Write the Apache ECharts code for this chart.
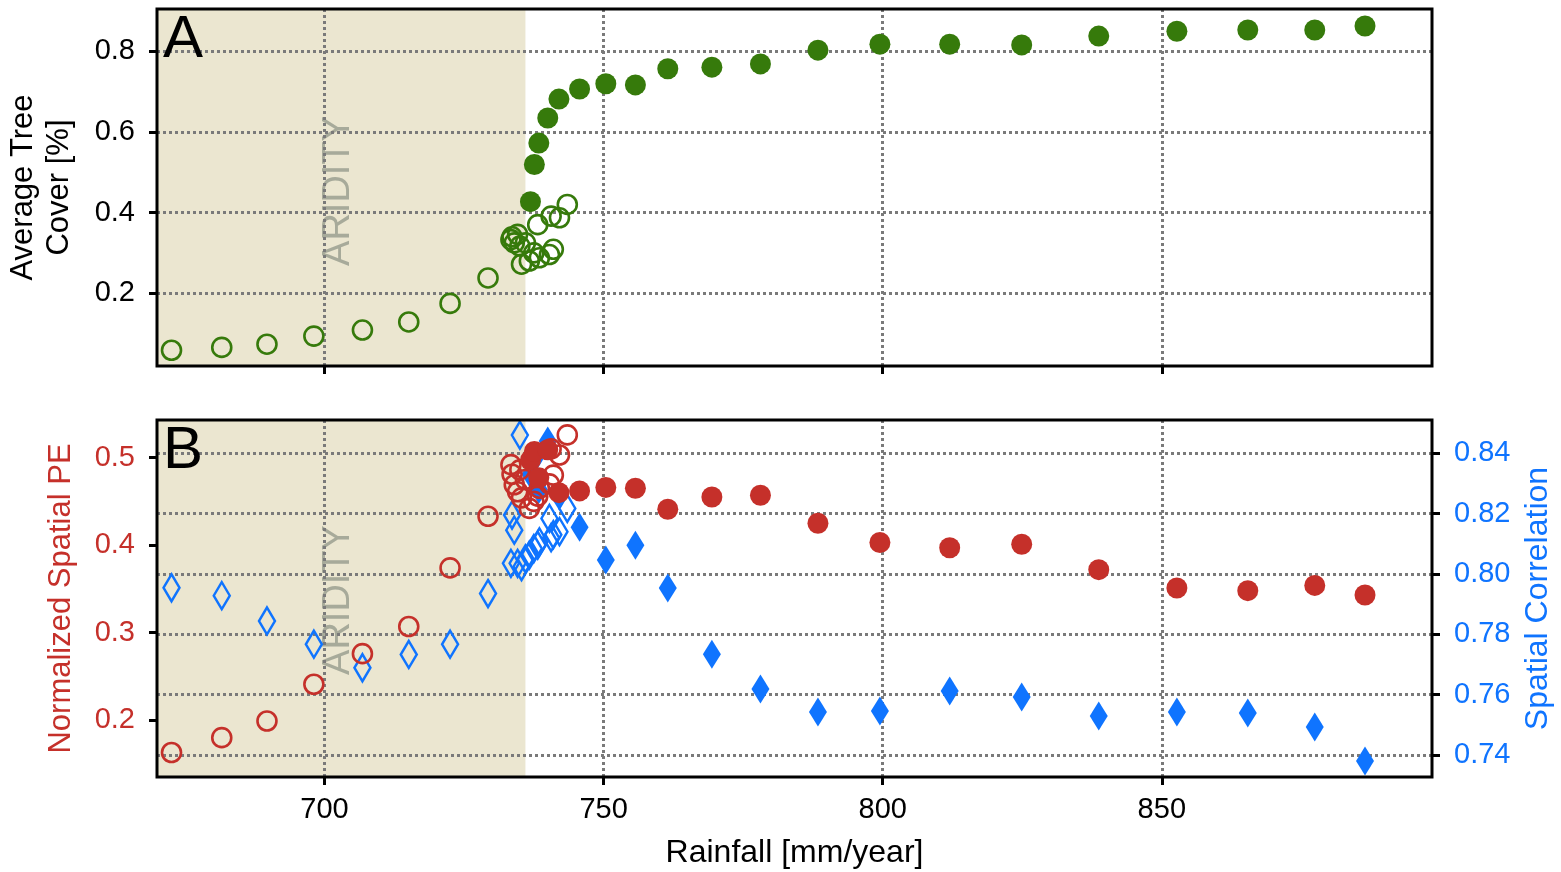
<!DOCTYPE html>
<html>
<head>
<meta charset="utf-8">
<script src="https://cdn.jsdelivr.net/npm/echarts@6/dist/echarts.min.js"></script>
<style>html,body{margin:0;padding:0;background:#fff}#c{width:1561px;height:872px}</style>
</head>
<body>
<div id="c"></div>
<script>
// ---- data ----
const xTicks = [700, 750, 800, 850];
const treeTicks = [0.2, 0.4, 0.6, 0.8];
const peTicks = [0.2, 0.3, 0.4, 0.5];
const corrTicks = [0.74, 0.76, 0.78, 0.80, 0.82, 0.84];
const aridityEnd = 736;

// open markers (arid side / low-rain branch)
const rainOpen = [672.6, 681.6, 689.7, 698.1, 706.8, 715.1, 722.5, 729.3, 733.4, 733.6, 734.0, 734.6, 735.0, 735.3, 736.0, 736.7, 737.5, 738.2, 738.5, 740.3, 741.0, 742.1, 740.6, 743.5];
const treeOpen = [0.059, 0.066, 0.074, 0.094, 0.109, 0.129, 0.175, 0.238, 0.333, 0.340, 0.325, 0.346, 0.317, 0.272, 0.325, 0.280, 0.300, 0.370, 0.288, 0.296, 0.309, 0.387, 0.391, 0.420];
const peOpen = [0.163, 0.180, 0.199, 0.241, 0.276, 0.307, 0.374, 0.433, 0.492, 0.481, 0.469, 0.461, 0.486, 0.454, 0.475, 0.442, 0.450, 0.456, 0.465, 0.470, 0.480, 0.503, 0.510, 0.526];
const corrOpen = [0.7954, 0.7928, 0.7844, 0.7767, 0.7689, 0.7733, 0.7767, 0.7935, 0.8035, 0.8195, 0.8145, 0.8035, 0.846, 0.8024, 0.8050, 0.8062, 0.8084, 0.8095, 0.8106, 0.8184, 0.8130, 0.8140, 0.8120, 0.8217];

// filled markers (forest branch)
const rainFill = [736.9, 737.6, 738.4, 740.0, 742.0, 745.7, 750.4, 755.7, 761.5, 769.4, 778.1, 788.4, 799.5, 812.0, 824.9, 838.7, 852.7, 865.4, 877.4, 886.4];
const treeFill = [0.427, 0.519, 0.572, 0.634, 0.681, 0.706, 0.719, 0.716, 0.756, 0.760, 0.768, 0.802, 0.817, 0.817, 0.815, 0.837, 0.849, 0.852, 0.852, 0.862];
const peFill = [0.497, 0.507, 0.477, 0.509, 0.460, 0.462, 0.466, 0.465, 0.441, 0.455, 0.457, 0.425, 0.403, 0.397, 0.401, 0.372, 0.351, 0.348, 0.354, 0.343];
const corrFill = [0.833, 0.838, 0.828, 0.844, 0.826, 0.8155, 0.8046, 0.8095, 0.7953, 0.7734, 0.7619, 0.7542, 0.7546, 0.7612, 0.7592, 0.7529, 0.7542, 0.7539, 0.7493, 0.738];

// ---- styling ----
const GREEN = '#367a0b', RED = '#c5302a', BLUE = '#0f74ff', SHADE = '#ebe6d0', GRID = '#7a7a7a';
const FONT = 'Liberation Sans, Arial, Helvetica, sans-serif';
const pairs = (xs, ys) => xs.map((x, i) => [x, ys[i]]);

const tickStyle = {show: true, inside: false, length: 8, lineStyle: {color: '#000', width: 3}};
const splitStyle = {show: true, lineStyle: {color: GRID, width: 3, type: [3, 3]}};
const labelBase = {fontFamily: FONT, fontSize: 29, color: '#000'};

function xAxisFor(gi, showLabels) {
  return {
    type: 'value', gridIndex: gi, min: 670, max: 898.4, z: 3,
    axisLine: {show: false},
    axisTick: Object.assign({customValues: xTicks}, tickStyle),
    axisLabel: Object.assign({show: showLabels, customValues: xTicks, margin: 18}, labelBase),
    splitLine: splitStyle,
    name: showLabels ? 'Rainfall [mm/year]' : '',
    nameLocation: 'middle', nameGap: 60,
    nameTextStyle: {fontFamily: FONT, fontSize: 32, color: '#000'}
  };
}

const gridBase = {left: 157, right: 129, height: 357, show: true, borderColor: '#000', borderWidth: 3,
  backgroundColor: 'transparent', z: 6, containLabel: false, outerBoundsMode: 'none'};

const option = {
  animation: false,
  backgroundColor: '#fff',
  grid: [
    Object.assign({top: 9}, gridBase),
    Object.assign({top: 420}, gridBase)
  ],
  xAxis: [xAxisFor(0, false), xAxisFor(1, true)],
  yAxis: [
    {
      type: 'value', gridIndex: 0, min: 0.02, max: 0.904, z: 3,
      axisLine: {show: false},
      axisTick: Object.assign({customValues: treeTicks}, tickStyle),
      axisLabel: Object.assign({customValues: treeTicks, margin: 22, formatter: v => v.toFixed(1)}, labelBase),
      splitLine: splitStyle,
      name: 'Average Tree\nCover [%]', nameLocation: 'middle', nameRotate: 90, nameGap: 80,
      nameTextStyle: {fontFamily: FONT, fontSize: 31, color: '#000', lineHeight: 36}
    },
    {
      type: 'value', gridIndex: 1, min: 0.135, max: 0.543, position: 'left', z: 3,
      axisLine: {show: false},
      axisTick: Object.assign({customValues: peTicks}, tickStyle),
      axisLabel: Object.assign({customValues: peTicks, margin: 22, formatter: v => v.toFixed(1)}, labelBase, {color: RED}),
      splitLine: {show: false},
      name: 'Normalized Spatial PE', nameLocation: 'middle', nameRotate: 90, nameGap: 80,
      nameTextStyle: {fontFamily: FONT, fontSize: 31, color: RED}
    },
    {
      type: 'value', gridIndex: 1, min: 0.7327, max: 0.851, position: 'right', z: 3,
      axisLine: {show: false},
      axisTick: Object.assign({customValues: corrTicks}, tickStyle),
      axisLabel: Object.assign({customValues: corrTicks, margin: 22, formatter: v => v.toFixed(2)}, labelBase, {color: BLUE}),
      splitLine: splitStyle,
      name: 'Spatial Correlation', nameLocation: 'middle', nameRotate: 90, nameGap: 90,
      nameTextStyle: {fontFamily: FONT, fontSize: 32, color: BLUE}
    }
  ],
  graphic: [
    {type: 'text', left: 163, top: 10, z: 50, style: {text: 'A', font: '60px ' + FONT, fill: '#000'}},
    {type: 'text', left: 163, top: 421, z: 50, style: {text: 'B', font: '60px ' + FONT, fill: '#000'}},
    {type: 'text', x: 339, y: 191, rotation: Math.PI / 2, z: 2, style: {text: 'ARIDITY', font: '38px ' + FONT, fill: 'rgba(150,155,140,0.8)', align: 'center', verticalAlign: 'middle'}},
    {type: 'text', x: 339, y: 600, rotation: Math.PI / 2, z: 2, style: {text: 'ARIDITY', font: '38px ' + FONT, fill: 'rgba(150,155,140,0.8)', align: 'center', verticalAlign: 'middle'}}
  ],
  series: [
    {type: 'scatter', xAxisIndex: 0, yAxisIndex: 0, data: [], z: 1, silent: true,
     markArea: {silent: true, z: 1, itemStyle: {color: SHADE}, data: [[{xAxis: 670}, {xAxis: aridityEnd}]]}},
    {type: 'scatter', xAxisIndex: 1, yAxisIndex: 1, data: [], z: 1, silent: true,
     markArea: {silent: true, z: 1, itemStyle: {color: SHADE}, data: [[{xAxis: 670}, {xAxis: aridityEnd}]]}},

    {type: 'scatter', xAxisIndex: 0, yAxisIndex: 0, symbol: 'circle', symbolSize: 19, silent: true, z: 5,
     itemStyle: {color: 'rgba(0,0,0,0)', borderColor: GREEN, borderWidth: 2.6, opacity: 1},
     data: pairs(rainOpen, treeOpen)},
    {type: 'scatter', xAxisIndex: 0, yAxisIndex: 0, symbol: 'circle', symbolSize: 21, silent: true, z: 5,
     itemStyle: {color: GREEN, opacity: 1},
     data: pairs(rainFill, treeFill)},

    {type: 'scatter', xAxisIndex: 1, yAxisIndex: 2, symbol: 'diamond', symbolSize: [16, 27], silent: true, z: 5,
     itemStyle: {color: 'rgba(0,0,0,0)', borderColor: BLUE, borderWidth: 2.6, opacity: 1},
     data: pairs(rainOpen, corrOpen)},
    {type: 'scatter', xAxisIndex: 1, yAxisIndex: 2, symbol: 'diamond', symbolSize: [18, 29], silent: true, z: 5,
     itemStyle: {color: BLUE, opacity: 1},
     data: pairs(rainFill, corrFill)},
    {type: 'scatter', xAxisIndex: 1, yAxisIndex: 1, symbol: 'circle', symbolSize: 19, silent: true, z: 5,
     itemStyle: {color: 'rgba(0,0,0,0)', borderColor: RED, borderWidth: 2.6, opacity: 1},
     data: pairs(rainOpen, peOpen)},
    {type: 'scatter', xAxisIndex: 1, yAxisIndex: 1, symbol: 'circle', symbolSize: 21, silent: true, z: 5,
     itemStyle: {color: RED, opacity: 1},
     data: pairs(rainFill, peFill)}
  ]
};

const chart = echarts.init(document.getElementById('c'), null, {renderer: 'canvas'});
chart.setOption(option);
</script>
</body>
</html>
